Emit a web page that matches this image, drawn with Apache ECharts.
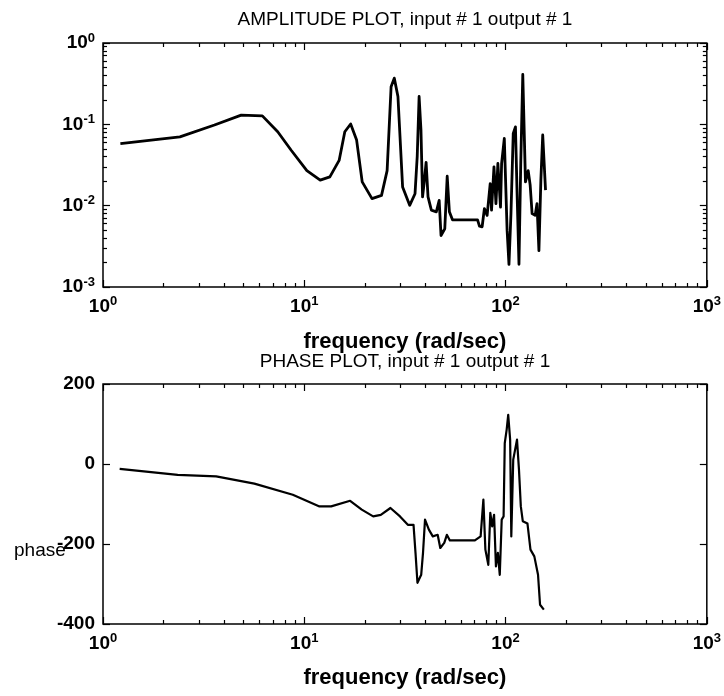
<!DOCTYPE html>
<html>
<head>
<meta charset="utf-8">
<script src="https://cdn.jsdelivr.net/npm/echarts@6/dist/echarts.min.js"></script>
<style>
  html, body { margin: 0; padding: 0; background: #fff; }
  #main { width: 724px; height: 696px; }
</style>
</head>
<body>
<div id="main"></div>
<script>
// amplitude curve
var ampFreq = [1.22, 2.41, 3.58, 4.86, 6.19, 7.38, 8.61, 10.3, 12.0, 13.4, 14.9, 15.9, 17.0, 18.2, 19.4, 21.7, 24.2, 25.8, 27.0, 28.0, 29.2, 30.8, 33.4, 35.5, 36.4, 37.2, 38.0, 38.7, 39.4, 40.3, 41.2, 42.8, 45.3, 46.8, 47.8, 49.9, 51.3, 52.6, 54.5, 72.6, 74.2, 76.5, 78.5, 81, 83.9, 85.2, 87.6, 89.6, 91.6, 94.4, 95.6, 98.6, 101.8, 104, 106.4, 109.2, 112, 114, 116.6, 119, 121.8, 125.6, 129.6, 132.5, 135.5, 140.3, 143.3, 146.5, 149.8, 153, 158];
var ampVal = [0.058, 0.070, 0.098, 0.130, 0.127, 0.081, 0.048, 0.027, 0.0206, 0.0226, 0.036, 0.081, 0.101, 0.064, 0.0196, 0.0122, 0.0134, 0.027, 0.29, 0.37, 0.22, 0.017, 0.0101, 0.014, 0.040, 0.22, 0.085, 0.0128, 0.019, 0.034, 0.0128, 0.0088, 0.0084, 0.0116, 0.0043, 0.0052, 0.023, 0.0084, 0.0067, 0.0067, 0.0056, 0.0055, 0.0092, 0.0076, 0.0187, 0.0088, 0.030, 0.0106, 0.033, 0.0096, 0.033, 0.067, 0.005, 0.0019, 0.008, 0.077, 0.093, 0.0155, 0.0019, 0.033, 0.41, 0.0196, 0.027, 0.018, 0.008, 0.0076, 0.0106, 0.0028, 0.0206, 0.074, 0.0155];

// phase curve
var phaseFreq = [1.21, 2.35, 3.65, 5.65, 8.77, 11.9, 13.6, 16.9, 19.3, 22, 24, 26.8, 29.9, 32.7, 34.9, 35.7, 36.5, 38.1, 38.9, 39.8, 41.6, 43.5, 46, 47.4, 49.6, 51.1, 52.9, 70.4, 75.2, 77.6, 79.4, 82.1, 84, 85.8, 87.7, 89.6, 91.6, 93.6, 95.7, 97.8, 99.1, 101.3, 103.1, 105.4, 106.8, 109.2, 114, 116.6, 119.1, 121.8, 128.5, 133, 139, 145, 148.4, 155];
var phaseVal = [-12, -27, -31, -49, -77, -106, -106, -92, -114, -131, -127, -110, -131, -152, -152, -222, -297, -277, -222, -139, -164, -181, -177, -210, -197, -177, -191, -191, -181, -89, -214, -252, -122, -156, -127, -256, -222, -277, -139, -131, 52, 86, 123, 61, -181, 11, 61, -14, -106, -143, -149, -214, -231, -277, -352, -364];

var phaseTicks = [-400, -200, 0, 200];

var FONT = '"Liberation Sans", Arial, sans-serif';

function zip(a, b) {
  var out = [];
  for (var i = 0; i < a.length; i++) out.push([a[i], b[i]]);
  return out;
}

// minor ticks 2..9 of every decade
function minorTicks(lo, hi) {
  var out = [];
  for (var d = lo; d < hi; d *= 10) {
    for (var k = 2; k <= 9; k++) out.push(+(d * k).toPrecision(3));
  }
  return out;
}

function powLabel(v) {
  var e = Math.round(Math.log10(v));
  return '{b|10}{s|' + e + '}';
}

var richPow = {
  b: { fontSize: 19, fontFamily: FONT, color: '#000', fontWeight: 'bold' },
  s: { fontSize: 13, fontFamily: FONT, color: '#000', fontWeight: 'bold', verticalAlign: 'top', padding: [0, 0, 10, 0] }
};

function logX(grid, pos, major, withLabel, name, gap) {
  var ax = {
    type: 'log', gridIndex: grid, position: pos, min: 1, max: 1000, logBase: 10,
    axisLine: { show: false, onZero: false },
    splitLine: { show: false },
    axisTick: { show: true, inside: true, length: major ? 7 : 4, lineStyle: { color: '#000', width: 1.2 } },
    axisLabel: { show: false }
  };
  if (!major) ax.axisTick.customValues = minorTicks(1, 1000);
  if (withLabel) {
    ax.axisLabel = { show: true, margin: 8, formatter: powLabel, rich: richPow };
    ax.name = name;
    ax.nameLocation = 'middle';
    ax.nameGap = gap;
    ax.nameTextStyle = { fontSize: 22, fontFamily: FONT, color: '#000', fontWeight: 'bold' };
  }
  return ax;
}

function logY(pos, major, withLabel) {
  var ax = {
    type: 'log', gridIndex: 0, position: pos, min: 0.001, max: 1, logBase: 10,
    axisLine: { show: false, onZero: false },
    splitLine: { show: false },
    axisTick: { show: true, inside: true, length: major ? 7 : 4, lineStyle: { color: '#000', width: 1.2 } },
    axisLabel: { show: false }
  };
  if (!major) ax.axisTick.customValues = minorTicks(0.001, 1);
  if (withLabel) ax.axisLabel = { show: true, margin: 8, formatter: powLabel, rich: richPow };
  return ax;
}

function linY(pos, withLabel) {
  return {
    type: 'value', gridIndex: 1, position: pos, min: -400, max: 200, interval: 200,
    axisLine: { show: false, onZero: false },
    splitLine: { show: false },
    axisTick: { show: true, inside: true, length: 7, lineStyle: { color: '#000', width: 1.2 } },
    axisLabel: {
      show: withLabel, margin: 8, fontSize: 19, fontFamily: FONT, color: '#000', fontWeight: 'bold',
      customValues: phaseTicks
    }
  };
}

var chart = echarts.init(document.getElementById('main'), null, { renderer: 'canvas' });

chart.setOption({
  backgroundColor: '#fff',
  animation: false,
  title: [
    { text: 'AMPLITUDE PLOT, input # 1 output # 1', left: 405, top: 10, textAlign: 'center', padding: 0,
      textStyle: { fontSize: 19, fontFamily: FONT, color: '#000', fontWeight: 'normal' } },
    { text: 'PHASE PLOT, input # 1 output # 1', left: 405, top: 352, textAlign: 'center', padding: 0,
      textStyle: { fontSize: 19, fontFamily: FONT, color: '#000', fontWeight: 'normal' } },
    { text: 'phase', left: 14, top: 541, padding: 0,
      textStyle: { fontSize: 19, fontFamily: FONT, color: '#000', fontWeight: 'normal' } }
  ],
  grid: [
    { left: 103, top: 43, width: 604, height: 244, show: true, borderColor: '#000', borderWidth: 1.5, backgroundColor: '#fff' },
    { left: 103, top: 384, width: 604, height: 240, show: true, borderColor: '#000', borderWidth: 1.5, backgroundColor: '#fff' }
  ],
  xAxis: [
    logX(0, 'bottom', true, true, 'frequency (rad/sec)', 44),
    logX(0, 'bottom', false, false),
    logX(0, 'top', true, false),
    logX(0, 'top', false, false),
    logX(1, 'bottom', true, true, 'frequency (rad/sec)', 43),
    logX(1, 'bottom', false, false),
    logX(1, 'top', true, false),
    logX(1, 'top', false, false)
  ],
  yAxis: [
    logY('left', true, true),
    logY('left', false, false),
    logY('right', true, false),
    logY('right', false, false),
    linY('left', true),
    linY('right', false)
  ],
  series: [
    {
      type: 'line', xAxisIndex: 0, yAxisIndex: 0, data: zip(ampFreq, ampVal),
      showSymbol: false, lineStyle: { color: '#000', width: 2.8, join: 'round' }, clip: true
    },
    {
      type: 'line', xAxisIndex: 4, yAxisIndex: 4, data: zip(phaseFreq, phaseVal),
      showSymbol: false, lineStyle: { color: '#000', width: 2.2, join: 'round' }, clip: true
    }
  ]
});
</script>
</body>
</html>
